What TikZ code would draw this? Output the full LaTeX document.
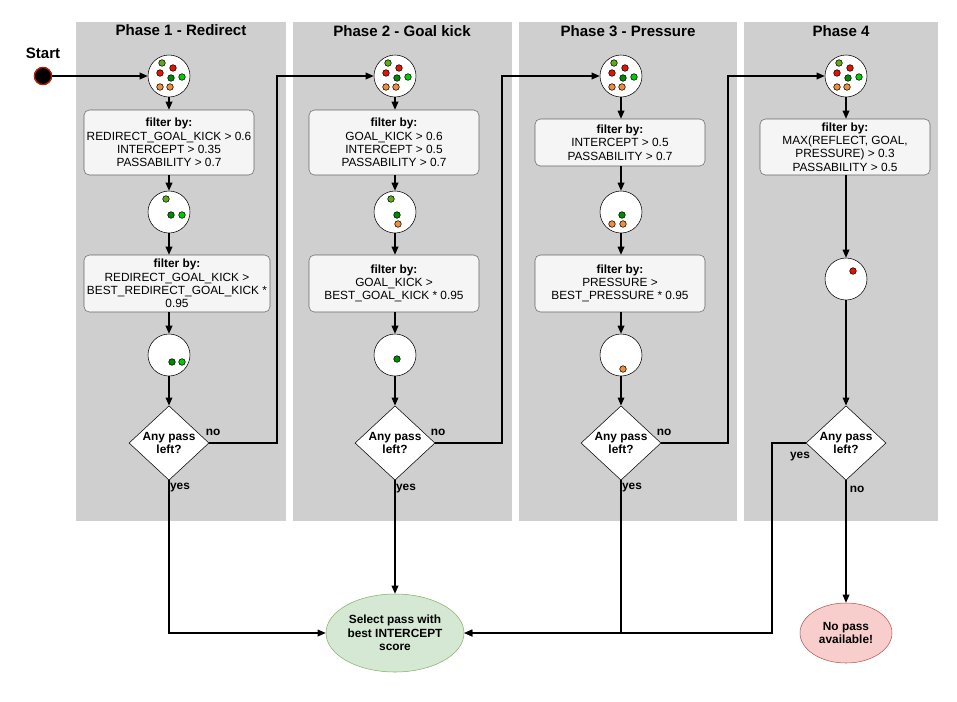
\documentclass[tikz,border=0pt]{standalone}
\usepackage{fontspec}
\setmainfont{Liberation Sans}
\usetikzlibrary{shapes.geometric,arrows.meta}
\definecolor{olv}{HTML}{60A917}
\definecolor{rd}{HTML}{E51400}
\definecolor{dg}{HTML}{008A00}
\definecolor{lg}{HTML}{00CC00}
\definecolor{og}{HTML}{F08C3A}
\newcommand\pdot[3]{\fill[#3,draw=black,line width=0.4pt] (#1,#2) circle[radius=3.3];}
\begin{document}
\begin{tikzpicture}[x=0.75pt,y=-0.75pt,
  every node/.style={font=\fontsize{8.9}{10}\selectfont,inner sep=1pt},
  bg/.style={fill=black!19,draw=none},
  ttl/.style={font=\fontsize{11.3}{13}\selectfont\bfseries},
  filt/.style={draw=black!60,fill=black!4,rounded corners=4pt,align=center,minimum width=170*0.75pt},
  circ/.style={circle,draw,fill=white,minimum size=42*0.75pt,inner sep=0},
  dia/.style={diamond,draw,fill=white,minimum width=80*0.75pt,minimum height=70*0.75pt,align=center,inner sep=0,font=\fontsize{8.9}{10}\selectfont\bfseries},
  arr/.style={-{Triangle[length=6pt,width=5pt]},line width=0.9pt},
  lbl/.style={font=\fontsize{8.9}{10}\selectfont\bfseries}]
\useasboundingbox (0,0) rectangle (957,701);
\fill[bg] (76,22) rectangle (286,521);
\fill[bg] (293,22) rectangle (512,521);
\fill[bg] (519,22) rectangle (737,521);
\fill[bg] (744,22) rectangle (938,521);
\node[ttl] (t1) at (181,30) {Phase 1 - Redirect};
\node[ttl] (t2) at (402,31) {Phase 2 - Goal kick};
\node[ttl] (t3) at (628,31) {Phase 3 - Pressure};
\node[ttl] (t4) at (841,31) {Phase 4};
\node[ttl] (st) at (43,53) {Start};
\node[circle,draw=black,fill=black,minimum size=17*0.75pt,inner sep=0,line width=1pt] (s) at (43,76) {};
\draw[rd,line width=0.8pt] (s) circle[radius=8.5];
\foreach \n/\x in {1/169,2/395,3/621,4/846}{
  \node[circ] (a\n) at (\x,76) {};
  \pdot{\x-7}{63}{olv}\pdot{\x+4}{68}{rd}\pdot{\x-9}{73}{rd}
  \pdot{\x+2}{78}{dg}\pdot{\x+13}{77}{lg}\pdot{\x-9}{87}{og}\pdot{\x+1}{87}{og}
  \node[dia] (d\n) at (\x,443) {Any pass\\left?};
}
\node[filt,minimum height=65*0.75pt] (f1) at (169,142.5) {\textbf{filter by:}\\REDIRECT\_GOAL\_KICK > 0.6\\INTERCEPT > 0.35\\PASSABILITY > 0.7};
\node[filt,minimum height=65*0.75pt] (f2) at (394,142.5) {\textbf{filter by:}\\GOAL\_KICK > 0.6\\INTERCEPT > 0.5\\PASSABILITY > 0.7};
\node[filt,minimum height=47*0.75pt] (f3) at (620,142.5) {\textbf{filter by:}\\INTERCEPT > 0.5\\PASSABILITY > 0.7};
\node[filt,minimum height=56*0.75pt] (f4) at (845,147) {\textbf{filter by:}\\MAX(REFLECT, GOAL,\\PRESSURE) > 0.3\\PASSABILITY > 0.5};
\node[circ] (b1) at (169,212) {};
\pdot{166}{199}{olv}\pdot{171}{215}{dg}\pdot{182}{215}{lg}
\node[circ] (b2) at (395,212) {};
\pdot{391}{199}{olv}\pdot{397}{215}{dg}\pdot{398}{224}{og}
\node[circ] (b3) at (621,212) {};
\pdot{622}{215}{dg}\pdot{612}{224}{og}\pdot{623}{224}{og}
\node[circ] (b4) at (846,279) {};
\pdot{853}{271}{rd}
\node[filt,minimum width=186*0.75pt,minimum height=57*0.75pt] (g1) at (177,283.5) {\textbf{filter by:}\\REDIRECT\_GOAL\_KICK >\\BEST\_REDIRECT\_GOAL\_KICK *\\0.95};
\node[filt,minimum height=57*0.75pt] (g2) at (394,283.5) {\textbf{filter by:}\\GOAL\_KICK >\\BEST\_GOAL\_KICK * 0.95};
\node[filt,minimum height=57*0.75pt] (g3) at (620,283.5) {\textbf{filter by:}\\PRESSURE >\\BEST\_PRESSURE * 0.95};
\node[circ] (c1) at (169,355) {};
\pdot{172}{362}{dg}\pdot{182}{362}{lg}
\node[circ] (c2) at (395,355) {};
\pdot{397}{359}{dg}
\node[circ] (c3) at (621,355) {};
\pdot{623}{369}{og}
\node[ellipse,draw={rgb,255:red,130;green,179;blue,102},fill={rgb,255:red,213;green,232;blue,212},minimum width=138*0.75pt,minimum height=78*0.75pt,align=center,lbl,inner sep=0] (sel) at (395,633) {Select pass with\\best INTERCEPT\\score};
\node[ellipse,draw={rgb,255:red,184;green,84;blue,80},fill={rgb,255:red,248;green,206;blue,204},minimum width=92*0.75pt,minimum height=60*0.75pt,align=center,lbl,inner sep=0] (np) at (846,633) {No pass\\available!};
\draw[arr] (s) -- (a1);
\foreach \n in {1,2,3}{
  \draw[arr] (a\n) -- (a\n |- f\n.north);
  \draw[arr] (f\n.south -| a\n) -- (b\n);
  \draw[arr] (b\n) -- (b\n |- g\n.north);
  \draw[arr] (g\n.south -| b\n) -- (c\n);
  \draw[arr] (c\n) -- (d\n);
}
\draw[arr] (a4) -- (a4 |- f4.north);
\draw[arr] (f4.south -| a4) -- (b4);
\draw[arr] (b4) -- (d4);
\draw[arr] (d1.east) -- (277,443) -- (277,76) -- (a2.west);
\draw[arr] (d2.east) -- (502,443) -- (502,76) -- (a3.west);
\draw[arr] (d3.east) -- (728,443) -- (728,76) -- (a4.west);
\draw[arr] (d1.south) -- (169,633) -- (sel.west);
\draw[arr] (d2.south) -- (sel.north);
\draw[arr] (d3.south) -- (621,633) -- (sel.east);
\draw[arr] (d4.west) -- (772,443) -- (772,633) -- (sel.east);
\draw[arr] (d4.south) -- (np.north);
\node[lbl] (n1) at (213,432) {no};
\node[lbl] (n2) at (438,432) {no};
\node[lbl] (n3) at (664,432) {no};
\node[lbl] (y1) at (180,488) {yes};
\node[lbl] (y2) at (406,489) {yes};
\node[lbl] (y3) at (632,488) {yes};
\node[lbl] (y4) at (800,457) {yes};
\node[lbl] (n4) at (857,489) {no};
\end{tikzpicture}
\end{document}
